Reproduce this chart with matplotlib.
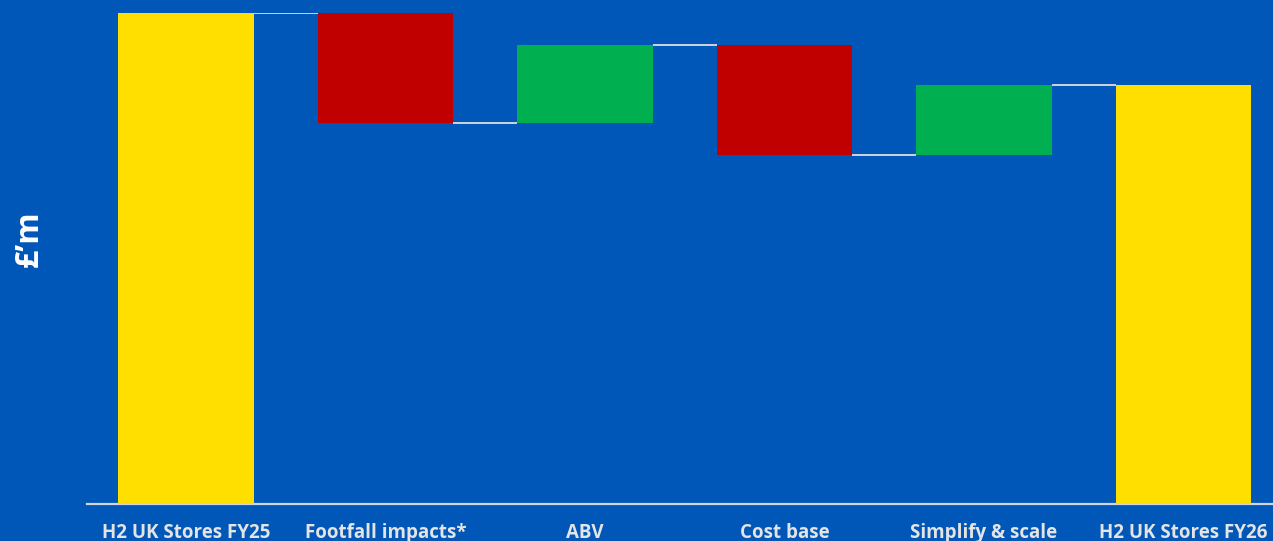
import matplotlib.pyplot as plt
import numpy as np

# waterfall data (arbitrary scale, no axis values shown)
categories = ["H2 UK Stores FY25", "Footfall impacts*", "ABV", "Cost base",
              "Simplify & scale", "H2 UK Stores FY26"]
start_value = 100.0
deltas = [-22.4, 15.9, -22.4, 14.2]
end_value = 85.3

BG = "#0057B8"
YELLOW = "#FFDF00"
RED = "#C00000"
GREEN = "#00B050"
LINE = "#D0D4DC"
LABEL = "#E4E4E4"


def main():
    plt.rcParams['font.family'] = ['Open Sans', 'DejaVu Sans']

    fig = plt.figure(figsize=(12.73, 5.41), dpi=100)
    fig.patch.set_facecolor(BG)
    ax = fig.add_axes([87 / 1273, 37 / 541, 1 - 87 / 1273, 491 / 541])
    ax.set_facecolor(BG)

    # bottoms and heights of each bar
    bottoms, heights, colors = [0.0], [start_value], [YELLOW]
    level = start_value
    for d in deltas:
        new = level + d
        bottoms.append(min(level, new))
        heights.append(abs(d))
        colors.append(GREEN if d > 0 else RED)
        level = new
    bottoms.append(0.0)
    heights.append(end_value)
    colors.append(YELLOW)

    x = np.arange(len(categories))
    width = 0.68
    ax.bar(x, heights, bottom=bottoms, width=width, color=colors, zorder=3)

    # connector lines between bars
    tops = [start_value]
    level = start_value
    for d in deltas:
        level = level + d
        tops.append(level)
    for i in range(len(categories) - 1):
        ax.plot([x[i] + width / 2, x[i + 1] - width / 2], [tops[i], tops[i]],
                color=LINE, lw=1.4, zorder=2, solid_capstyle='butt')

    ax.set_xlim(-0.496, 5.449)
    ax.set_ylim(0, 100)
    for s in ['top', 'right', 'left']:
        ax.spines[s].set_visible(False)
    ax.spines['bottom'].set_color(LINE)
    ax.spines['bottom'].set_linewidth(1.6)
    ax.set_yticks([])
    ax.set_xticks(x)
    ax.set_xticklabels(categories, fontsize=13.5, fontweight='bold', color=LABEL)
    ax.tick_params(axis='x', length=0, pad=14)

    fig.text(29 / 1273, (541 - 239) / 541, "£\u2019m", rotation=90, color="white",
             fontsize=23, fontweight='bold', ha='center', va='center')

    fig.savefig("out.png", dpi=100, facecolor=BG)


if __name__ == "__main__":
    main()
